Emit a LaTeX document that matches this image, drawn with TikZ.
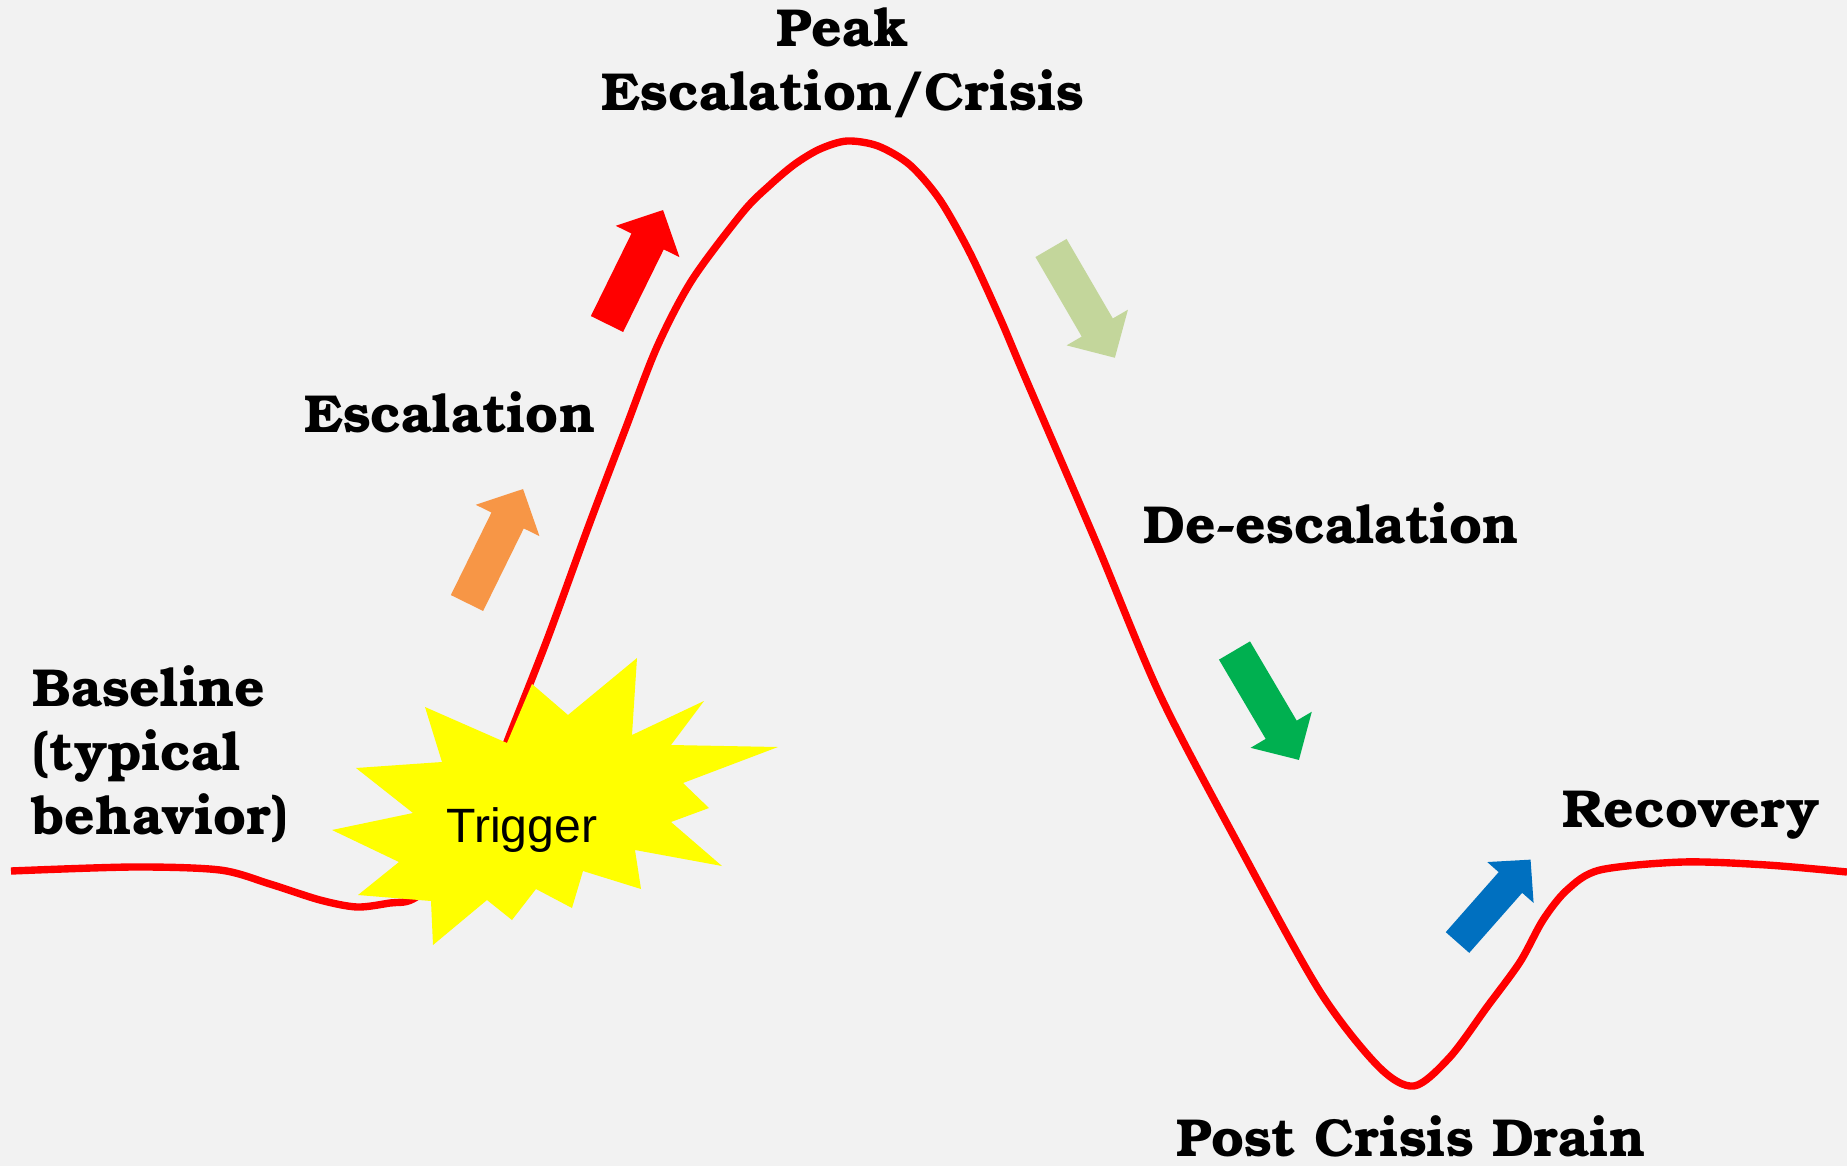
\documentclass[tikz,border=0pt]{standalone}
\usepackage{fontspec}
\usepackage{tikz}
\newfontfamily\phasefont{TeX Gyre Bonum}
\newfontfamily\burstfont{Liberation Sans}
\definecolor{paper}{HTML}{F2F2F2}
\definecolor{curvered}{HTML}{FF0000}
\definecolor{upone}{HTML}{F79646}
\definecolor{uptwo}{HTML}{FF0000}
\definecolor{downone}{HTML}{C3D69B}
\definecolor{downtwo}{HTML}{00B050}
\definecolor{backup}{HTML}{0070C0}
\definecolor{burstyellow}{HTML}{FFFF00}
\tikzstyle{phase}=[inner sep=0pt, font={\phasefont\bfseries\fontsize{15.2}{18.2}\selectfont}]
\tikzstyle{trig}=[inner sep=0pt, font={\burstfont\fontsize{13.7}{16}\selectfont}]
\tikzstyle{crisis}=[draw=curvered, line width=2.1pt, line join=round]
% block arrow: colour, tail point, angle, scale
\newcommand{\phasearrow}[4]{%
  \begin{scope}[shift={#2}, rotate=#3, scale=#4]
    \fill[#1] (0,-18) -- (92,-18) -- (92,-35.5) -- (127,0) -- (92,35.5) -- (92,18) -- (0,18) -- cycle;
  \end{scope}}

\begin{document}
\begin{tikzpicture}[x=0.01cm, y=-0.01cm]
    \useasboundingbox (0,0) rectangle (1847,1166);
    \fill[paper] (0,0) rectangle (1847,1166);
    % the crisis curve
    \draw[crisis] plot[smooth, tension=0.5] coordinates {
        (11,871) (133,867) (220,870) (270,884) (320,900) (357,907) (390,903)
        (413,899) (450,870) (480,815) (507,742) (547,640) (589,525) (625,430)
        (657,347) (692,280) (743,212) (770,185) (795,164) (820,149) (847,141)
        (878,146) (910,165) (940,200) (970,253) (1000,318) (1025,377)
        (1096,542) (1160,695) (1237,842)
        (1319,990) (1378,1066) (1414,1086) (1450,1057) (1487,1007) (1520,962)
        (1543,920) (1567,890) (1600,870) (1683,862) (1767,865) (1847,872)};
    % trigger burst
    \fill[burstyellow] (425,707) -- (442,762) -- (356,768) -- (413,813) -- (332,830)
        -- (399,862) -- (358,895) -- (431,901) -- (433,945) -- (487,900)
        -- (512,920) -- (536,889) -- (572,908) -- (583,871) -- (641,889)
        -- (635,850) -- (722,866) -- (671,822) -- (709,808) -- (683,783)
        -- (778,747) -- (671,745) -- (704,701) -- (632,735) -- (637,658)
        -- (568,715) -- (532,684) -- (507,743) -- cycle;
    \node (trigger) [trig, anchor=base] at (522,842) {Trigger};
    % arrows
    \phasearrow{upone}{(467,603)}{63.8}{1}
    \phasearrow{uptwo}{(607,324)}{63.8}{1}
    \phasearrow{downone}{(1051,248)}{-59.8}{1}
    \phasearrow{downtwo}{(1234.5,650.5)}{-59.5}{1}
    \phasearrow{backup}{(1457.5,942.5)}{48.6}{0.87}
    % labels
    \node (base) [phase, align=left, anchor=north west] at (32,665) {Baseline\\(typical\\behavior)};
    \node (esc) [phase, anchor=base] at (450,432) {Escalation};
    \node (peak) [phase, align=center, anchor=north] at (843,7) {Peak\\Escalation/Crisis};
    \node (deesc) [phase, anchor=base] at (1331,543) {De-escalation};
    \node (drain) [phase, anchor=base] at (1411,1156) {Post Crisis Drain};
    \node (recov) [phase, anchor=base] at (1691,827) {Recovery};
\end{tikzpicture}
\end{document}
